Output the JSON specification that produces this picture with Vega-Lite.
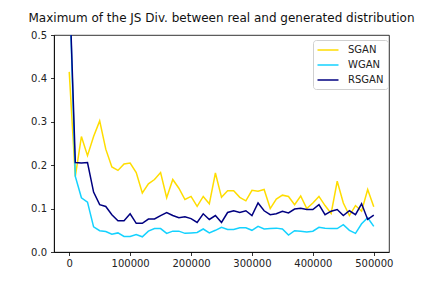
{
  "$schema": "https://vega.github.io/schema/vega-lite/v6.json",
  "autosize": {"type": "none"},
  "width": 335,
  "height": 217,
  "padding": {"left": 54, "top": 35, "right": 43, "bottom": 36},
  "config": {
    "font": "DejaVu Sans",
    "view": {"stroke": "black", "strokeWidth": 0.8},
    "axis": {"grid": false, "domainColor": "black", "domainWidth": 0.8, "tickColor": "black", "tickWidth": 0.8, "tickSize": 3.5, "labelFontSize": 10, "labelColor": "#222", "labelFont": "DejaVu Sans", "title": null}
  },
  "title": {"text": "Maximum of the JS Div. between real and generated distribution", "fontSize": 12, "fontWeight": "normal", "font": "DejaVu Sans", "color": "#111", "anchor": "middle", "offset": 5},
  "data": {"values": [
    {"x":0,"SGAN":0.415,"WGAN":0.63,"RSGAN":0.63},
    {"x":10000,"SGAN":0.174,"WGAN":0.174,"RSGAN":0.206},
    {"x":20000,"SGAN":0.266,"WGAN":0.125,"RSGAN":0.205},
    {"x":30000,"SGAN":0.222,"WGAN":0.115,"RSGAN":0.206},
    {"x":40000,"SGAN":0.266,"WGAN":0.058,"RSGAN":0.138},
    {"x":50000,"SGAN":0.302,"WGAN":0.049,"RSGAN":0.109},
    {"x":60000,"SGAN":0.237,"WGAN":0.047,"RSGAN":0.105},
    {"x":70000,"SGAN":0.196,"WGAN":0.041,"RSGAN":0.086},
    {"x":80000,"SGAN":0.188,"WGAN":0.044,"RSGAN":0.072},
    {"x":90000,"SGAN":0.203,"WGAN":0.036,"RSGAN":0.072},
    {"x":100000,"SGAN":0.205,"WGAN":0.036,"RSGAN":0.088},
    {"x":110000,"SGAN":0.183,"WGAN":0.040,"RSGAN":0.066},
    {"x":120000,"SGAN":0.136,"WGAN":0.035,"RSGAN":0.066},
    {"x":130000,"SGAN":0.157,"WGAN":0.048,"RSGAN":0.076},
    {"x":140000,"SGAN":0.167,"WGAN":0.054,"RSGAN":0.076},
    {"x":150000,"SGAN":0.183,"WGAN":0.054,"RSGAN":0.084},
    {"x":160000,"SGAN":0.125,"WGAN":0.043,"RSGAN":0.091},
    {"x":170000,"SGAN":0.167,"WGAN":0.048,"RSGAN":0.084},
    {"x":180000,"SGAN":0.147,"WGAN":0.048,"RSGAN":0.079},
    {"x":190000,"SGAN":0.121,"WGAN":0.043,"RSGAN":0.081},
    {"x":200000,"SGAN":0.128,"WGAN":0.044,"RSGAN":0.077},
    {"x":210000,"SGAN":0.105,"WGAN":0.045,"RSGAN":0.068},
    {"x":220000,"SGAN":0.128,"WGAN":0.053,"RSGAN":0.088},
    {"x":230000,"SGAN":0.111,"WGAN":0.044,"RSGAN":0.075},
    {"x":240000,"SGAN":0.182,"WGAN":0.050,"RSGAN":0.084},
    {"x":250000,"SGAN":0.126,"WGAN":0.057,"RSGAN":0.068},
    {"x":260000,"SGAN":0.141,"WGAN":0.052,"RSGAN":0.091},
    {"x":270000,"SGAN":0.141,"WGAN":0.052,"RSGAN":0.095},
    {"x":280000,"SGAN":0.126,"WGAN":0.056,"RSGAN":0.091},
    {"x":290000,"SGAN":0.118,"WGAN":0.056,"RSGAN":0.095},
    {"x":300000,"SGAN":0.142,"WGAN":0.050,"RSGAN":0.084},
    {"x":310000,"SGAN":0.140,"WGAN":0.059,"RSGAN":0.113},
    {"x":320000,"SGAN":0.144,"WGAN":0.053,"RSGAN":0.095},
    {"x":330000,"SGAN":0.100,"WGAN":0.054,"RSGAN":0.086},
    {"x":340000,"SGAN":0.122,"WGAN":0.055,"RSGAN":0.088},
    {"x":350000,"SGAN":0.131,"WGAN":0.053,"RSGAN":0.094},
    {"x":360000,"SGAN":0.128,"WGAN":0.039,"RSGAN":0.090},
    {"x":370000,"SGAN":0.109,"WGAN":0.049,"RSGAN":0.099},
    {"x":380000,"SGAN":0.129,"WGAN":0.048,"RSGAN":0.101},
    {"x":390000,"SGAN":0.100,"WGAN":0.046,"RSGAN":0.098},
    {"x":400000,"SGAN":0.113,"WGAN":0.048,"RSGAN":0.098},
    {"x":410000,"SGAN":0.128,"WGAN":0.057,"RSGAN":0.109},
    {"x":420000,"SGAN":0.107,"WGAN":0.055,"RSGAN":0.086},
    {"x":430000,"SGAN":0.089,"WGAN":0.054,"RSGAN":0.094},
    {"x":440000,"SGAN":0.163,"WGAN":0.054,"RSGAN":0.098},
    {"x":450000,"SGAN":0.113,"WGAN":0.063,"RSGAN":0.084},
    {"x":460000,"SGAN":0.084,"WGAN":0.050,"RSGAN":0.095},
    {"x":470000,"SGAN":0.107,"WGAN":0.043,"RSGAN":0.086},
    {"x":480000,"SGAN":0.094,"WGAN":0.065,"RSGAN":0.111},
    {"x":490000,"SGAN":0.144,"WGAN":0.079,"RSGAN":0.075},
    {"x":500000,"SGAN":0.104,"WGAN":0.059,"RSGAN":0.085}
  ]},
  "transform": [{"fold": ["SGAN", "WGAN", "RSGAN"], "as": ["model", "value"]}],
  "mark": {"type": "line", "strokeWidth": 1.5, "clip": true},
  "encoding": {
    "x": {"field": "x", "type": "quantitative", "scale": {"domain": [-25000, 525000], "nice": false, "zero": false}, "axis": {"values": [0, 100000, 200000, 300000, 400000, 500000], "format": "d", "labelPadding": 3}},
    "y": {"field": "value", "type": "quantitative", "scale": {"domain": [0, 0.5], "nice": false}, "axis": {"values": [0, 0.1, 0.2, 0.3, 0.4, 0.5], "format": ".1f", "labelPadding": 4}},
    "color": {"field": "model", "type": "nominal", "scale": {"domain": ["SGAN", "WGAN", "RSGAN"], "range": ["#FFDD00", "#14D2FF", "#000080"]},
      "legend": {"title": null, "orient": "none", "legendX": 259, "legendY": 5, "symbolType": "M-2.1,0H2.1", "symbolSize": 100, "symbolStrokeWidth": 1.5, "symbolFillColor": "transparent", "symbolOffset": 5, "labelFontSize": 10, "labelColor": "#222", "labelOffset": 14, "padding": 4, "rowPadding": 4, "strokeColor": "#d0d0d0", "fillColor": "white", "cornerRadius": 3}},
    "order": {"field": "x", "type": "quantitative"}
  }
}
